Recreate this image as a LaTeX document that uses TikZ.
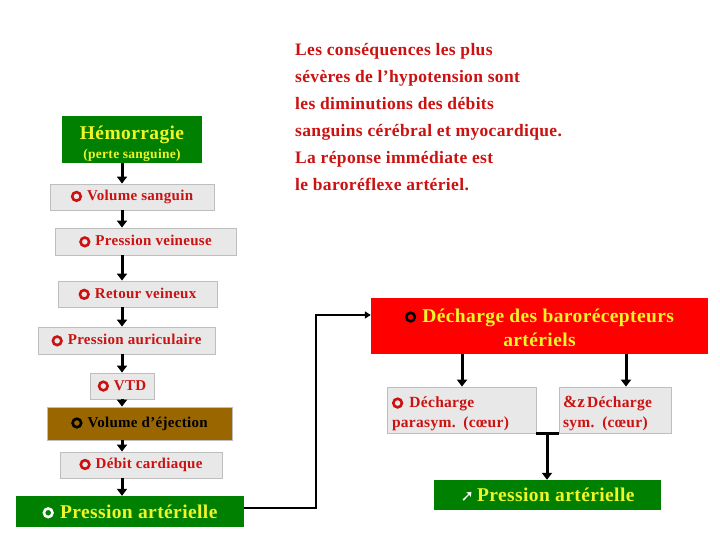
\documentclass[tikz,border=0pt]{standalone}
\usepackage{fontspec}
\setmainfont[LetterSpace=2]{Liberation Serif}
\newfontfamily\symfont{DejaVu Sans}
\usetikzlibrary{arrows.meta}
\definecolor{txtred}{RGB}{204,17,17}
\definecolor{boxgray}{RGB}{232,232,232}
\definecolor{boxline}{RGB}{190,190,190}
\definecolor{dgreen}{RGB}{0,128,0}
\definecolor{brownbox}{RGB}{153,102,0}
\definecolor{yel}{RGB}{238,245,40}
\newcommand{\ringsym}[1]{\tikz[baseline=-0.6ex]\draw[#1,line width=2.6pt] (0,0) circle (4.3pt);\hspace{1pt}}
\tikzset{
  graybox/.style={draw=boxline,line width=0.8pt,fill=boxgray,text=txtred,inner sep=0pt,
    font=\fontsize{15}{20}\selectfont\bfseries},
  greenbox/.style={fill=dgreen,text=yel,inner sep=0pt,font=\fontsize{19.5}{22}\selectfont\bfseries},
  arr/.style={line width=3pt,-{Triangle[width=10pt,length=7pt]}},
  thinarr/.style={line width=2.2pt,-{Triangle[width=7pt,length=6pt]}},
  joinline/.style={line width=2.2pt}
}
\begin{document}
\begin{tikzpicture}[x=1pt,y=-1pt]
\useasboundingbox (0,0) rectangle (720,540);
\fill[white] (0,0) rectangle (720,540);
\coordinate (col) at (122,0);
% left column
\node[greenbox,minimum width=140pt,minimum height=47pt,align=center,font=\fontsize{19.5}{21}\selectfont\bfseries] (hem) at (132,139.5)
  {\rule{0pt}{22pt}H\'emorragie\\[-2pt]{\fontsize{13.5}{15}\selectfont (perte sanguine)}};
\node[graybox,minimum width=164pt,minimum height=26pt] (vs) at (132,197) {\ringsym{txtred} Volume sanguin};
\node[graybox,minimum width=181pt,minimum height=27pt] (pv) at (145.5,241.5) {\ringsym{txtred} Pression veineuse};
\node[graybox,minimum width=159pt,minimum height=26pt] (rv) at (137.5,294) {\ringsym{txtred} Retour veineux};
\node[graybox,minimum width=177pt,minimum height=27pt] (pa) at (126.5,340.5) {\ringsym{txtred} Pression auriculaire};
\node[graybox,minimum width=64pt,minimum height=26pt] (vtd) at (122,386) {\ringsym{txtred} VTD};
\node[draw=boxline,line width=0.8pt,fill=brownbox,text=black,inner sep=0pt,font=\fontsize{15}{16}\selectfont\bfseries,
  minimum width=185pt,minimum height=33pt] (ve) at (139.5,423.5) {\ringsym{black} Volume d'\'ejection};
\node[graybox,minimum width=162pt,minimum height=26pt] (dc) at (141,465) {\ringsym{txtred} D\'ebit cardiaque};
\node[greenbox,minimum width=228pt,minimum height=31pt] (part) at (130,511.5) {\ringsym{white} Pression art\'erielle};
% arrows left column
\draw[arr] (hem.south -| col) -- (vs.north -| col);
\draw[arr] (vs.south -| col) -- (pv.north -| col);
\draw[arr] (pv.south -| col) -- (rv.north -| col);
\draw[arr] (rv.south -| col) -- (pa.north -| col);
\draw[arr] (pa.south -| col) -- (vtd.north -| col);
\draw[arr] (vtd.south -| col) -- (ve.north -| col);
\draw[arr] (ve.south -| col) -- (dc.north -| col);
\draw[arr] (dc.south -| col) -- (part.north -| col);
% text block
\node[anchor=north west,align=left,text=txtred,inner sep=0pt,font=\fontsize{17.5}{27}\selectfont\bfseries] (txt) at (295,43)
  {Les cons\'equences les plus\\
   s\'ev\`eres de l'hypotension sont\\
   les diminutions des d\'ebits\\
   sanguins c\'er\'ebral et myocardique.\\
   La r\'eponse imm\'ediate est\\
   le baror\'eflexe art\'eriel.};
% right side
\node[fill=red,text=yel,inner sep=0pt,align=center,font=\fontsize{19.5}{24}\selectfont\bfseries,
  minimum width=337pt,minimum height=56pt] (dba) at (539.5,325.5)
  {\rule{0pt}{18pt}\ringsym{black} D\'echarge des baror\'ecepteurs\\ art\'eriels};
\node[graybox,minimum width=149pt,minimum height=46pt,text width=139pt,align=left,font=\fontsize{15.5}{20}\selectfont\bfseries] (para) at (461.5,410)
  {\rule{0pt}{18pt}\ringsym{txtred} D\'echarge\\ parasym. (c\oe ur)};
\node[graybox,minimum width=112pt,minimum height=46pt,text width=104pt,align=left,font=\fontsize{15.5}{20}\selectfont\bfseries] (sym) at (615,410)
  {\rule{0pt}{18pt}{\fontsize{17}{20}\selectfont\&z}\hspace{2pt}D\'echarge\\ sym. (c\oe ur)};
\node[fill=dgreen,text=yel,inner sep=0pt,font=\fontsize{19.5}{22}\selectfont\bfseries,
  minimum width=227pt,minimum height=30pt] (parr) at (547.5,495)
  {{\color{white}\symfont\fontsize{16}{16}\selectfont ➚}\,Pression art\'erielle};
% connectors
\coordinate (bend1) at (316,508);
\coordinate (bend2) at (316,315);
\draw[thinarr] (part.east |- bend1) -- (bend1) -- (bend2) -- (dba.west |- bend2);
\coordinate (c1) at (462,0);
\coordinate (c2) at (626,0);
\draw[arr] (dba.south -| c1) -- (para.north -| c1);
\draw[arr] (dba.south -| c2) -- (sym.north -| c2);
\coordinate (jn) at (547,433);
\draw[joinline] (para.south east) -- (sym.south west);
\draw[arr] (jn) -- (parr.north -| jn);
\end{tikzpicture}
\end{document}
